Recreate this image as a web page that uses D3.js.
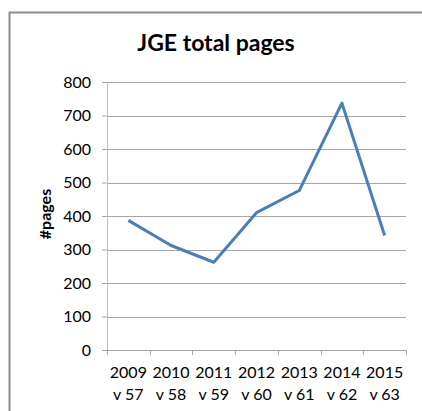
<!DOCTYPE html>
<head>
    <meta charset="utf-8">
    <title>JGE total pages</title>
    <style>
        body { margin: 0; background: #fff; }
        .tick text { font: 16px Lato, "Open Sans", sans-serif; fill: #000; }
        .title { font: bold 23px Lato, "Open Sans", sans-serif; }
        .ylabel { font: bold 16px Lato, "Open Sans", sans-serif; }
    </style>
</head>
<body>
    <svg width="422" height="411"></svg>
    <script src="https://d3js.org/d3.v7.min.js"></script>
    <script>

    var years = ["2009", "2010", "2011", "2012", "2013", "2014", "2015"],
        volumes = ["v 57", "v 58", "v 59", "v 60", "v 61", "v 62", "v 63"],
        pages = [387, 312, 262, 410, 476, 737, 342],
        yTicks = [0, 100, 200, 300, 400, 500, 600, 700, 800];

    var svg = d3.select("svg"),
        margin = {top: 82, right: 16, bottom: 61, left: 107},
        width = +svg.attr("width") - margin.left - margin.right,
        height = +svg.attr("height") - margin.top - margin.bottom;

    // chart frame
    svg.append("rect")
        .attr("x", 9.5).attr("y", 12.5)
        .attr("width", 430).attr("height", 420)
        .attr("fill", "none")
        .attr("stroke", "#8c8c8c")
        .attr("stroke-width", 2);

    var g = svg.append("g").attr("transform", "translate(" + margin.left + "," + margin.top + ")");

    var x = d3.scaleBand().domain(years).range([0, width]);
    var y = d3.scaleLinear().domain([0, 800]).range([height, 0]);

    // gridlines
    g.append("g")
        .selectAll("line")
        .data(yTicks.slice(1))
        .enter().append("line")
        .attr("x1", 0).attr("x2", width)
        .attr("y1", function(d) { return Math.round(y(d)) + 0.5; })
        .attr("y2", function(d) { return Math.round(y(d)) + 0.5; })
        .attr("stroke", "#a6a6a6");

    var yAxis = g.append("g")
        .call(d3.axisLeft(y).tickValues(yTicks).tickSize(5).tickPadding(11));
    yAxis.select(".domain").attr("stroke", "#c0c0c0");
    yAxis.selectAll(".tick line").attr("stroke", "#a6a6a6");

    var xAxis = g.append("g")
        .attr("transform", "translate(0," + height + ")")
        .call(d3.axisBottom(x).tickSize(0).tickFormat(""));
    xAxis.select(".domain").attr("stroke", "#a6a6a6");

    // category boundary ticks
    g.append("g")
        .selectAll("line")
        .data(years.concat(["end"]))
        .enter().append("line")
        .attr("x1", function(d, i) { return Math.round(i * x.bandwidth()) + 0.5; })
        .attr("x2", function(d, i) { return Math.round(i * x.bandwidth()) + 0.5; })
        .attr("y1", height).attr("y2", height + 5)
        .attr("stroke", "#a6a6a6");

    var labels = g.append("g").selectAll("text")
        .data(years)
        .enter().append("text")
        .attr("text-anchor", "middle")
        .style("font", "16px Lato, 'Open Sans', sans-serif")
        .attr("transform", function(d) { return "translate(" + (x(d) + x.bandwidth() / 2) + "," + (height + 28) + ")"; });
    labels.append("tspan").attr("x", 0).attr("y", 0).text(function(d) { return d; });
    labels.append("tspan").attr("x", 0).attr("y", 22).text(function(d, i) { return volumes[i]; });

    var line = d3.line()
        .x(function(d, i) { return x(years[i]) + x.bandwidth() / 2; })
        .y(function(d) { return y(d); });

    g.append("path")
        .datum(pages)
        .attr("fill", "none")
        .attr("stroke", "#4a7ebb")
        .attr("stroke-width", 3)
        .attr("stroke-linejoin", "round")
        .attr("d", line);

    svg.append("text")
        .attr("class", "title")
        .attr("x", 216).attr("y", 51)
        .attr("text-anchor", "middle")
        .text("JGE total pages");

    svg.append("text")
        .attr("class", "ylabel")
        .attr("transform", "translate(51," + (margin.top + height / 2 - 2) + ") rotate(-90)")
        .attr("text-anchor", "middle")
        .text("#pages");

    </script>
</body>
</html>
